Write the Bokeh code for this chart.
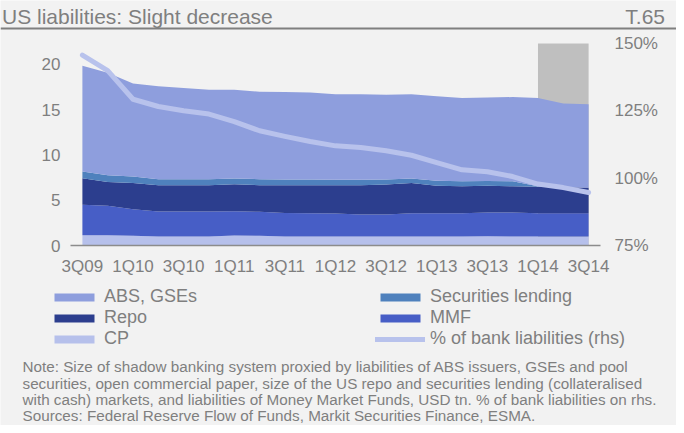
from bokeh.plotting import figure
from bokeh.models import (Range1d, LinearAxis, FixedTicker, Legend, LegendItem, Label, Span,
                          BoxAnnotation, ColumnDataSource, PrintfTickFormatter)
from bokeh.embed import file_html
from bokeh.resources import INLINE

# ---------------- data ----------------
quarters = ["3Q09", "4Q09", "1Q10", "2Q10", "3Q10", "4Q10", "1Q11", "2Q11", "3Q11", "4Q11",
            "1Q12", "2Q12", "3Q12", "4Q12", "1Q13", "2Q13", "3Q13", "4Q13", "1Q14", "2Q14", "3Q14"]
cp = [1.14, 1.14, 1.07, 1.00, 1.00, 1.00, 1.10, 1.07, 1.00, 1.00, 1.00,
      1.00, 1.00, 1.00, 1.00, 1.00, 1.02, 1.00, 1.00, 1.00, 1.00]
mmf = [3.36, 3.24, 2.94, 2.76, 2.76, 2.76, 2.68, 2.65, 2.60, 2.57, 2.53,
       2.43, 2.43, 2.57, 2.57, 2.57, 2.62, 2.64, 2.57, 2.57, 2.57]
repo = [2.94, 2.65, 2.89, 2.91, 2.91, 2.91, 3.00, 2.95, 3.07, 3.10, 3.14,
        3.24, 3.31, 3.33, 3.03, 2.98, 2.96, 2.91, 2.93, 2.85, 2.80]
sec_lending = [0.74, 0.74, 0.72, 0.66, 0.66, 0.66, 0.62, 0.66, 0.63, 0.63, 0.59,
               0.59, 0.56, 0.50, 0.55, 0.55, 0.52, 0.55, 0.05, 0.00, 0.00]
abs_gses = [11.67, 11.33, 10.28, 10.27, 10.07, 9.87, 9.80, 9.67, 9.65, 9.60, 9.44,
            9.44, 9.36, 9.30, 9.35, 9.20, 9.23, 9.30, 9.75, 9.28, 9.23]
bank_pct = [145.7, 139.9, 129.3, 126.6, 125.0, 123.8, 121.0, 117.6, 115.5, 113.6, 112.0,
            111.4, 110.2, 108.5, 105.8, 103.1, 102.4, 100.6, 97.8, 96.5, 94.7]
tick_labels = ["3Q09", "1Q10", "3Q10", "1Q11", "3Q11", "1Q12", "3Q12", "1Q13", "3Q13", "1Q14", "3Q14"]
left_ticks = [0, 5, 10, 15, 20]
right_ticks = [75, 100, 125, 150]
highlight = ["1Q14", "3Q14"]

title_text = "US liabilities: Slight decrease"
tag_text = "T.65"
note_lines = [
    "Note: Size of shadow banking system proxied by liabilities of ABS issuers, GSEs and pool",
    "securities, open commercial paper, size of the US repo and securities lending (collateralised",
    "with cash) markets, and liabilities of Money Market Funds, USD tn. % of bank liabilities on rhs.",
    "Sources: Federal Reserve Flow of Funds, Markit Securities Finance, ESMA.",
]

# ---------------- layout / style ----------------
FONT = "Liberation Sans"
GREY_TXT = "#7f7f7f"
BG = "#f2f2f2"
C_ABS = "#8e9edd"
C_SL = "#4f81bd"
C_REPO = "#2c3e8e"
C_MMF = "#475ec6"
C_CP = "#b6c0eb"
C_LINE = "#b8c2ec"

W, H = 676, 425
# plot area (pixels inside the figure)
PA_L, PA_R, PA_T, PA_B = 70, 600, 43, 245
X_LO, X_HI = -0.47, len(quarters) - 1 + 0.47      # x extent of plot area
Y_LO, Y_HI = 0.0, 22.32                            # left axis extent
R_LO, R_HI = 75.0, 150.0                           # right axis extent


def full_range(lo, hi, p_lo, p_hi, total, invert=False):
    scale = (hi - lo) / (p_hi - p_lo)
    if invert:  # screen y grows downwards
        return Range1d(lo - (total - p_hi) * scale, hi + p_lo * scale)
    return Range1d(lo - p_lo * scale, hi + (total - p_hi) * scale)


x_rng = full_range(X_LO, X_HI, PA_L, PA_R, W)
y_rng = full_range(Y_LO, Y_HI, PA_T, PA_B, H, invert=True)
r_rng = full_range(R_LO, R_HI, PA_T, PA_B, H, invert=True)

x = list(range(len(quarters)))
src = ColumnDataSource(dict(x=x, cp=cp, mmf=mmf, repo=repo, sl=sec_lending, abs=abs_gses, pct=bank_pct))

p = figure(width=W, height=H, output_backend="svg", toolbar_location=None,
           x_range=x_rng, y_range=y_rng, min_border=0,
           x_axis_location=None, y_axis_location=None)
p.extra_y_ranges = {"pct": r_rng}
p.background_fill_color = BG
p.border_fill_color = BG
p.outline_line_color = None
p.grid.visible = False

# highlight for 2014 quarters
p.add_layout(BoxAnnotation(left=quarters.index(highlight[0]), right=quarters.index(highlight[1]),
                           bottom=Y_LO, top=Y_HI,
                           fill_color="#bfbfbf", fill_alpha=1.0, line_color=None, level="underlay"))

rs = p.varea_stack(stackers=["cp", "mmf", "repo", "sl", "abs"], x="x",
                   color=[C_CP, C_MMF, C_REPO, C_SL, C_ABS], source=src)
r_cp, r_mmf, r_repo, r_sl, r_abs = rs
r_line = p.line("x", "pct", source=src, y_range_name="pct", line_width=5,
                line_color=C_LINE, line_cap="round", line_join="round")


def style_axis(ax, standoff):
    ax.major_tick_line_color = None
    ax.minor_tick_line_color = None
    ax.major_tick_out = 0
    ax.major_tick_in = 0
    ax.minor_tick_out = 0
    ax.minor_tick_in = 0
    ax.major_label_standoff = standoff
    ax.major_label_text_font = FONT
    ax.major_label_text_font_size = "17px"
    ax.major_label_text_color = GREY_TXT


# axes (fixed at the plot-area edges)
xa = LinearAxis(fixed_location=Y_LO, bounds=(X_LO, X_HI),
                ticker=FixedTicker(ticks=[quarters.index(t) for t in tick_labels]))
xa.major_label_overrides = {quarters.index(t): t for t in tick_labels}
xa.axis_line_color = "#8c8c8c"
xa.axis_line_width = 1.5
style_axis(xa, 11)
p.add_layout(xa, "below")

ya = LinearAxis(fixed_location=X_LO, ticker=FixedTicker(ticks=left_ticks))
ya.axis_line_color = None
style_axis(ya, 10)
p.add_layout(ya, "left")

ra = LinearAxis(y_range_name="pct", fixed_location=X_HI, ticker=FixedTicker(ticks=right_ticks),
                formatter=PrintfTickFormatter(format="%d%%"))
ra.axis_line_color = None
style_axis(ra, 14)
p.add_layout(ra, "right")

# legend (filled column by column)
legend = Legend(items=[
    LegendItem(label="ABS, GSEs", renderers=[r_abs]),
    LegendItem(label="Repo", renderers=[r_repo]),
    LegendItem(label="CP", renderers=[r_cp]),
    LegendItem(label="Securities lending", renderers=[r_sl]),
    LegendItem(label="MMF", renderers=[r_mmf]),
    LegendItem(label="% of bank liabilities (rhs)", renderers=[r_line]),
], location=(49, 75.8), ncols=2, glyph_width=50, glyph_height=10, label_standoff=5,
    label_width=271, label_height=21, spacing=0, padding=0, margin=0,
    background_fill_alpha=0, border_line_color=None,
    label_text_font=FONT, label_text_font_size="18px", label_text_color=GREY_TXT)
p.add_layout(legend, "center")

# title bar
p.add_layout(Label(x=1.5, y=409.5, x_units="screen", y_units="screen", text=title_text,
                   text_font=FONT, text_font_size="21px", text_color=GREY_TXT,
                   text_baseline="alphabetic", text_align="left"))
p.add_layout(Label(x=664.5, y=409.5, x_units="screen", y_units="screen", text=tag_text,
                   text_font=FONT, text_font_size="21px", text_color=GREY_TXT,
                   text_baseline="alphabetic", text_align="right"))
p.add_layout(Span(location=397, location_units="screen", dimension="width",
                  line_color="#7f7f7f", line_width=2))

# note
for i, line in enumerate(note_lines):
    p.add_layout(Label(x=22, y=58.8 - 16.4 * i, x_units="screen", y_units="screen", text=line,
                       text_font=FONT, text_font_size="15.25px", text_color=GREY_TXT,
                       text_baseline="alphabetic", text_align="left"))

open("out.html", "w").write(file_html(p, INLINE))
